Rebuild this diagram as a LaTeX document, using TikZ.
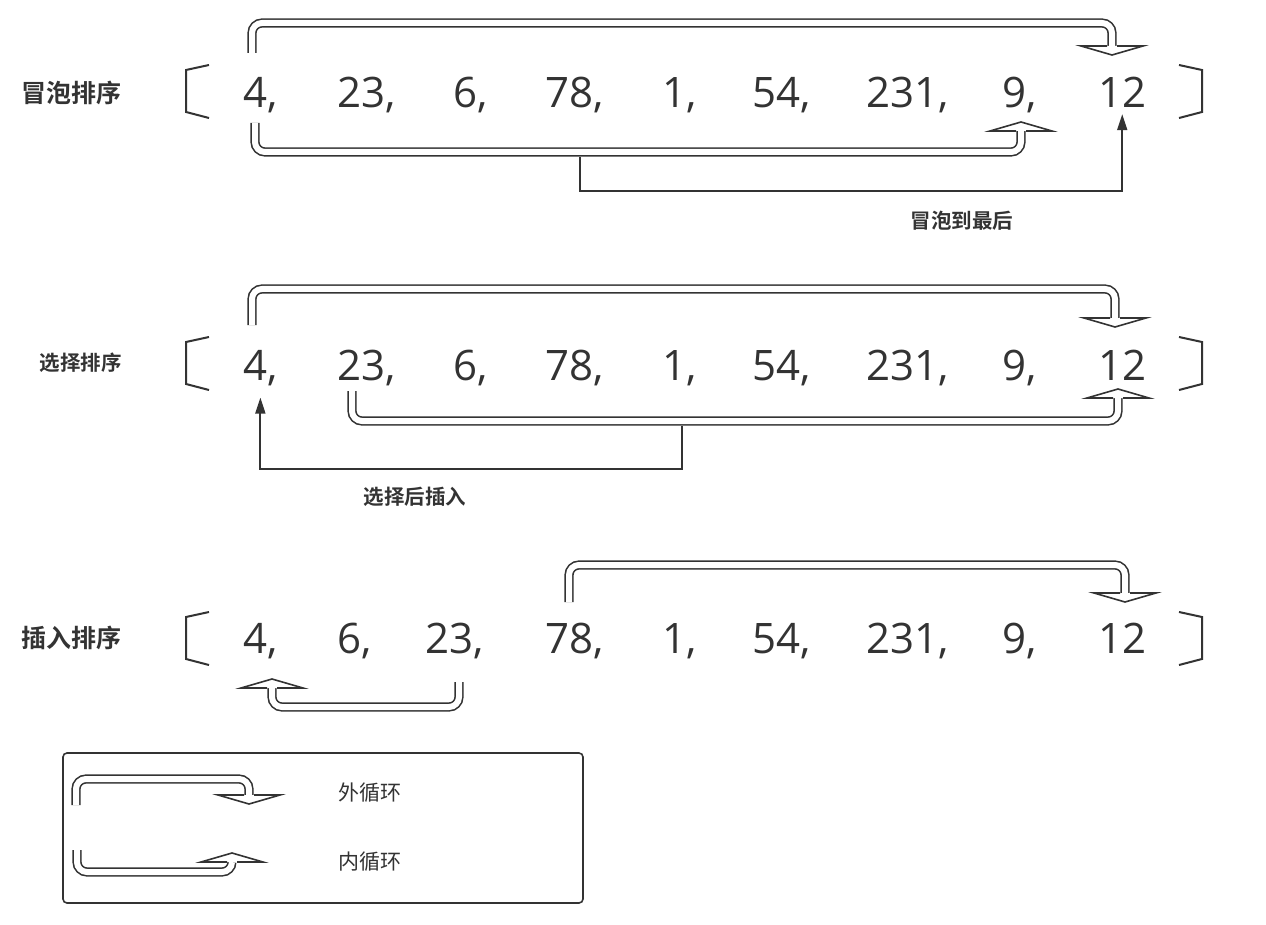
\documentclass[tikz,border=0pt]{standalone}
\usepackage{fontspec}
\setmainfont{Open Sans}
\newfontfamily\cjk[BoldFont={Noto Sans CJK SC Bold}]{Noto Sans CJK SC}
\usetikzlibrary{arrows.meta}
\definecolor{ink}{HTML}{333333}

% hollow head of a loop band, set on the band's end (angle 0 = pointing down)
\newcommand{\hollowhead}[2]{%
  \begin{scope}[shift={(#1)}, rotate=#2]
    \filldraw[loophead] (-5,0) -- (-31,0) -- (0,9) -- (31,0) -- (5,0);
  \end{scope}}

\begin{document}
\begin{tikzpicture}[x=1pt, y=-1pt,
  num/.style={anchor=base west, inner sep=0pt, text=ink, font=\fontsize{42}{42}\selectfont},
  sortname/.style={anchor=east, inner sep=0pt, text=ink, font=\cjk\bfseries\fontsize{25}{25}\selectfont},
  note/.style={inner sep=0pt, text=ink, font=\cjk\bfseries\fontsize{20.5}{20.5}\selectfont},
  legtext/.style={anchor=west, inner sep=0pt, text=ink, font=\cjk\fontsize{21}{21}\selectfont},
  brk/.style={draw=ink, line width=2pt},
  loopband/.style={draw=ink, line width=1.6pt, double=white, double distance=6pt, rounded corners=10pt},
  loophead/.style={fill=white, draw=ink, line width=1.6pt},
  link/.style={draw=ink, line width=1.8pt, -{Triangle[length=16pt, width=10pt]}}]
\useasboundingbox (0,0) rectangle (1266,925);

% bubble sort
\node[sortname] (s1) at (122,93) {冒泡排序};
\draw[brk] (209,65) -- (186,70) -- (186,112) -- (209,118);
\draw[brk] (1179,65) -- (1202,70) -- (1202,112) -- (1179,118);
\foreach \t/\x [count=\i] in {4/243, 23/337, 6/453, 78/545, 1/662, 54/752, 231/866, 9/1002}
  \node[num] (a\i) at (\x,108) {\t,};
\node[num] (a9) at (1098,108) {12};
\coordinate (o1) at (1112,46);
\draw[loopband] (252,53) -- (252,23) -- (1112,23) -- (o1);
\hollowhead{o1}{0}
\coordinate (i1) at (1021,131);
\draw[loopband] (255,123) -- (255,152) -- (1021,152) -- (i1);
\hollowhead{i1}{180}
\coordinate (c1) at (580,157);
\draw[link] (c1) -- (580,191) -| ([yshift=-6pt]a9.south);
\node[note] (t1) at (962,221) {冒泡到最后};

% selection sort
\node[sortname, font=\cjk\bfseries\fontsize{20.5}{20.5}\selectfont] (s2) at (122,363) {选择排序};
\draw[brk] (209,337) -- (186,342) -- (186,384) -- (209,390);
\draw[brk] (1179,337) -- (1202,342) -- (1202,384) -- (1179,390);
\foreach \t/\x [count=\i] in {4/243, 23/337, 6/453, 78/545, 1/662, 54/752, 231/866, 9/1002}
  \node[num] (b\i) at (\x,380) {\t,};
\node[num] (b9) at (1098,380) {12};
\coordinate (o2) at (1115,318);
\draw[loopband] (252,325) -- (252,289) -- (1115,289) -- (o2);
\hollowhead{o2}{0}
\coordinate (i2) at (1118,398);
\draw[loopband] (352,391) -- (352,421) -- (1118,421) -- (i2);
\hollowhead{i2}{180}
\coordinate (c2) at (682,426);
\draw[link] (c2) -- (682,469) -| ([yshift=-12pt]b1.south);
\node[note] (t2) at (415,497) {选择后插入};

% insertion sort
\node[sortname] (s3) at (122,638) {插入排序};
\draw[brk] (209,612) -- (186,617) -- (186,659) -- (209,665);
\draw[brk] (1179,612) -- (1202,617) -- (1202,659) -- (1179,665);
\foreach \t/\x [count=\i] in {4/243, 6/337, 23/425, 78/545, 1/662, 54/752, 231/866, 9/1002}
  \node[num] (d\i) at (\x,653) {\t,};
\node[num] (d9) at (1098,653) {12};
\coordinate (o3) at (1125,593);
\draw[loopband] (569,602) -- (569,565) -- (1125,565) -- (o3);
\hollowhead{o3}{0}
\coordinate (i3) at (272,688);
\draw[loopband] (459,682) -- (459,707) -- (272,707) -- (i3);
\hollowhead{i3}{180}

% legend
\draw[draw=ink, line width=1.6pt, rounded corners=4pt] (63,753) rectangle (583,903);
\coordinate (o4) at (249,795);
\draw[loopband] (76,805) -- (76,779) -- (249,779) -- (o4);
\hollowhead{o4}{0}
\coordinate (i4) at (232,862);
\draw[loopband] (77,850) -- (77,872) -- (232,872) -- (i4);
\hollowhead{i4}{180}
\node[legtext] (l1) at (338,793) {外循环};
\node[legtext] (l2) at (338,862) {内循环};
\end{tikzpicture}
\end{document}
